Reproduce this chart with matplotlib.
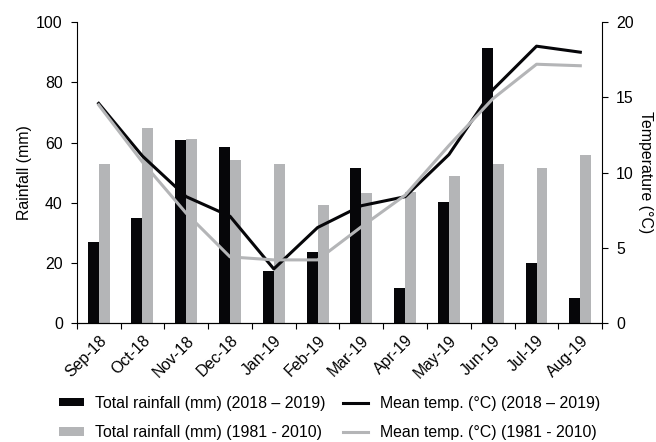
import matplotlib.pyplot as plt
import numpy as np

plt.rcParams['font.family'] = ['Liberation Sans', 'DejaVu Sans']
plt.rcParams['font.size'] = 11.4

months = ["Sep-18", "Oct-18", "Nov-18", "Dec-18", "Jan-19", "Feb-19",
          "Mar-19", "Apr-19", "May-19", "Jun-19", "Jul-19", "Aug-19"]
rain_1819 = [27.1, 34.8, 60.8, 58.6, 17.3, 23.7, 51.4, 11.7, 40.2, 91.3, 19.9, 8.3]
rain_8110 = [53.0, 64.8, 61.2, 54.3, 53.0, 39.4, 43.3, 43.5, 48.8, 52.9, 51.5, 55.8]
temp_1819 = [14.6, 11.1, 8.4, 7.1, 3.6, 6.35, 7.8, 8.4, 11.2, 15.5, 18.4, 18.0]
temp_8110 = [14.5, 10.7, 7.3, 4.4, 4.2, 4.2, 6.4, 8.5, 11.8, 14.9, 17.2, 17.1]

black = "#060609"
grey = "#b4b5b7"

fig = plt.figure(figsize=(6.56, 4.42), dpi=100)
ax = fig.add_axes([0.117, 0.269, 0.801, 0.681])
x = np.arange(len(months))
w = 0.25

b1 = ax.bar(x - w / 2, rain_1819, w, color=black, label="Total rainfall (mm) (2018 \u2013 2019)")
b2 = ax.bar(x + w / 2, rain_8110, w, color=grey, label="Total rainfall (mm) (1981 - 2010)")
ax.set_xlim(-0.5, len(months) - 0.5)
ax.set_ylim(0, 100)
ax.set_yticks([0, 20, 40, 60, 80, 100])
ax.set_ylabel("Rainfall (mm)", labelpad=3)
ax.set_xticks(x)
ax.set_xticklabels(months, rotation=45, ha="right", rotation_mode="anchor")
ax.set_xticks(np.arange(len(months) + 1) - 0.5, minor=True)
ax.tick_params(axis="x", which="major", length=0, pad=7)
ax.tick_params(axis="x", which="minor", length=4, width=0.8)
ax.tick_params(axis="y", length=4, width=0.8, pad=6)
ax.spines["top"].set_visible(False)
ax.spines["right"].set_visible(False)

ax2 = ax.twinx()
l1, = ax2.plot(x, temp_1819, color=black, lw=2.2, label="Mean temp. (\u00b0C) (2018 \u2013 2019)")
l2, = ax2.plot(x, temp_8110, color=grey, lw=2.2, label="Mean temp. (\u00b0C) (1981 - 2010)")
ax2.set_ylim(0, 20)
ax2.set_yticks([0, 5, 10, 15, 20])
ax2.set_ylabel("Temperature (\u00b0C)", rotation=270, labelpad=14)
ax2.tick_params(axis="y", length=4, width=0.8, pad=6)
ax2.spines["top"].set_visible(False)
ax2.spines["left"].set_visible(False)

fig.legend([b1, b2, l1, l2], [b1.get_label(), b2.get_label(), l1.get_label(), l2.get_label()],
           ncol=2, loc="lower center", bbox_to_anchor=(0.502, -0.028), frameon=False,
           handlelength=1.6, handleheight=0.45, handletextpad=0.7,
           columnspacing=1.1, labelspacing=0.9)

fig.savefig("out.png", dpi=100)
